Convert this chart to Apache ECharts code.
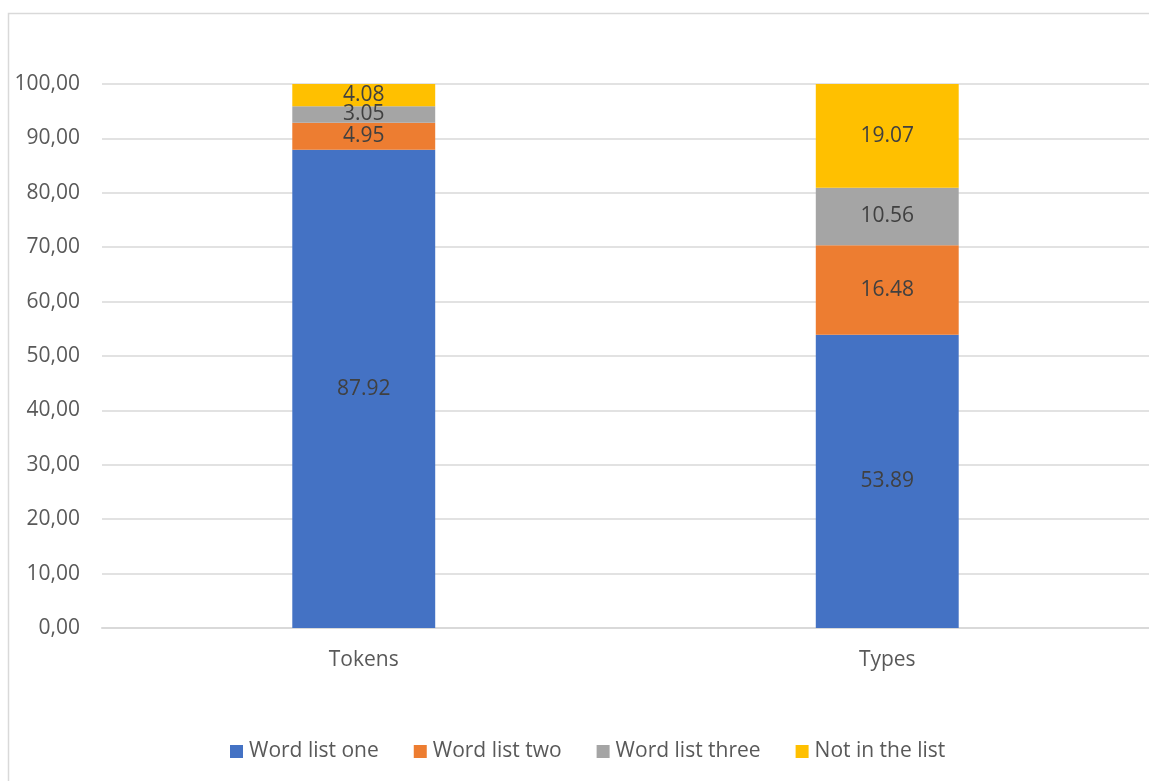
<!DOCTYPE html>
<html><head><meta charset="utf-8">
<script src="https://cdn.jsdelivr.net/npm/echarts@6/dist/echarts.min.js"></script>
<style>html,body{margin:0;padding:0;background:#fff}#c{width:1149px;height:781px}</style>
</head><body><div id="c"></div>
<script>
const categories = ['Tokens', 'Types'];
const seriesNames = ['Word list one', 'Word list two', 'Word list three', 'Not in the list'];
const wordListOne = [87.92, 53.89];
const wordListTwo = [4.95, 16.48];
const wordListThree = [3.05, 10.56];
const notInList = [4.08, 19.07];
const colors = ['#4472C4', '#ED7D31', '#A5A5A5', '#FFC000'];
const yTicks = [0, 10, 20, 30, 40, 50, 60, 70, 80, 90, 100];

const FONT = 'Open Sans';
const values = [wordListOne, wordListTwo, wordListThree, notInList];
const chart = echarts.init(document.getElementById('c'));
chart.setOption({
  animation: false,
  textStyle: { fontFamily: FONT },
  graphic: [{
    type: 'rect', shape: { x: 8.5, y: 13.5, width: 1300, height: 1000 },
    style: { fill: 'none', stroke: '#d9d9d9', lineWidth: 1.5 }, silent: true, z: -1
  }],
  grid: { left: 102, right: 0, top: 84, bottom: 153, containLabel: false },
  legend: {
    left: 225, top: 736, itemWidth: 13, itemHeight: 13, itemGap: 35,
    icon: 'rect',
    textStyle: { color: '#595959', fontSize: 21, fontFamily: FONT, padding: [0, 0, 0, 1] },
    data: seriesNames
  },
  xAxis: {
    type: 'category', data: categories,
    axisLine: { lineStyle: { color: '#d9d9d9', width: 2 } },
    axisTick: { show: false },
    axisLabel: { color: '#595959', fontSize: 21, margin: 22, fontFamily: FONT }
  },
  yAxis: {
    type: 'value', min: yTicks[0], max: yTicks[yTicks.length - 1], interval: 10,
    axisLine: { show: false }, axisTick: { show: false },
    splitLine: { lineStyle: { color: '#d9d9d9', width: 1.5 } },
    axisLabel: {
      color: '#595959', fontSize: 21, margin: 22, fontFamily: FONT,
      formatter: v => v.toFixed(2).replace('.', ',')
    }
  },
  series: seriesNames.map((n, i) => ({
    name: n, type: 'bar', stack: 'total', data: values[i],
    barWidth: '27.3%',
    itemStyle: { color: colors[i] },
    label: {
      show: true, position: 'inside', color: '#404040', fontSize: 21, fontFamily: FONT,
      formatter: p => p.value.toFixed(2)
    }
  }))
});
</script></body></html>
